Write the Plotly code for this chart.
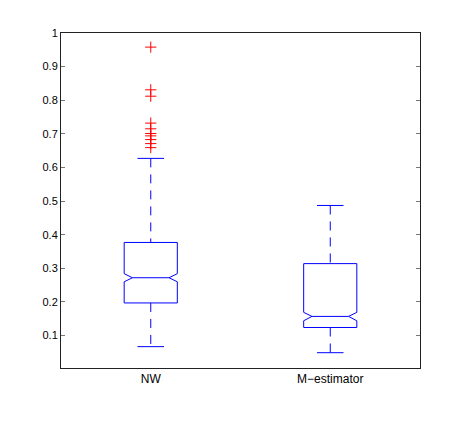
import plotly.graph_objects as go

# 箱形圖統計量
groups = ["NW", "M−estimator"]
positions = [1, 2]
q1 = [0.197, 0.124]
median = [0.272, 0.157]
q3 = [0.377, 0.314]
notch_lo = [0.260, 0.144]
notch_hi = [0.284, 0.169]
whisker_lo = [0.067, 0.049]
whisker_hi = [0.627, 0.487]

# 離群值（僅 NW）
outliers_nw = [0.958, 0.831, 0.812, 0.732, 0.715, 0.701, 0.694, 0.683, 0.671, 0.659]

y_ticks = [0.1, 0.2, 0.3, 0.4, 0.5, 0.6, 0.7, 0.8, 0.9, 1]
y_tick_text = ["0.1", "0.2", "0.3", "0.4", "0.5", "0.6", "0.7", "0.8", "0.9", "1"]

BLUE = "#0000ff"
RED = "#ff0000"
BOX_HW = 0.148    # 箱子半寬
NOTCH_HW = 0.102  # 凹口處半寬
CAP_HW = 0.074    # 鬚線端點半寬

fig = go.Figure()

for i, x in enumerate(positions):
    # 凹口箱體
    xs = [x - BOX_HW, x - BOX_HW, x - NOTCH_HW, x - BOX_HW, x - BOX_HW,
          x + BOX_HW, x + BOX_HW, x + NOTCH_HW, x + BOX_HW, x + BOX_HW, x - BOX_HW]
    ys = [q1[i], notch_lo[i], median[i], notch_hi[i], q3[i],
          q3[i], notch_hi[i], median[i], notch_lo[i], q1[i], q1[i]]
    fig.add_trace(go.Scatter(x=xs, y=ys, mode='lines',
                             line=dict(color=BLUE, width=1), hoverinfo='skip'))
    # 中位數
    fig.add_trace(go.Scatter(x=[x - NOTCH_HW, x + NOTCH_HW], y=[median[i], median[i]],
                             mode='lines', line=dict(color=BLUE, width=1), hoverinfo='skip'))
    # 虛線鬚
    fig.add_trace(go.Scatter(x=[x, x], y=[whisker_hi[i], q3[i]], mode='lines',
                             line=dict(color=BLUE, width=1, dash='9px,7px'), hoverinfo='skip'))
    fig.add_trace(go.Scatter(x=[x, x], y=[q1[i], whisker_lo[i]], mode='lines',
                             line=dict(color=BLUE, width=1, dash='9px,7px'), hoverinfo='skip'))
    # 鬚線端點
    for w in (whisker_hi[i], whisker_lo[i]):
        fig.add_trace(go.Scatter(x=[x - CAP_HW, x + CAP_HW], y=[w, w], mode='lines',
                                 line=dict(color=BLUE, width=1), hoverinfo='skip'))

# 離群值
fig.add_trace(go.Scatter(
    x=[positions[0]] * len(outliers_nw), y=outliers_nw, mode='markers',
    marker=dict(symbol='cross-thin', size=8, line=dict(color=RED, width=1)),
    hoverinfo='skip'
))

# 頁面 body 有 8px 預設邊距，故圖縮小並調整邊距
fig.update_layout(
    width=455, height=428,
    margin=dict(l=52.5, r=43.3, t=25.3, b=67.5),
    paper_bgcolor='white', plot_bgcolor='white',
    showlegend=False,
    font=dict(family='Liberation Sans, Arial, sans-serif', color='black', size=11),
)

fig.update_xaxes(
    range=[0.5, 2.5], tickvals=positions, ticktext=groups, ticks='',
    showgrid=False, zeroline=False, showline=True, linecolor='#222', linewidth=1,
    mirror=True, tickfont=dict(size=12),
)
fig.update_yaxes(
    range=[0.0035, 1.0], tickvals=y_ticks, ticktext=y_tick_text,
    ticks='inside', ticklen=4, tickcolor='#777', tickwidth=1,
    showgrid=False, zeroline=False, showline=True, linecolor='#222', linewidth=1,
    mirror='ticks', tickfont=dict(size=11),
)

fig.write_html("out.html")
